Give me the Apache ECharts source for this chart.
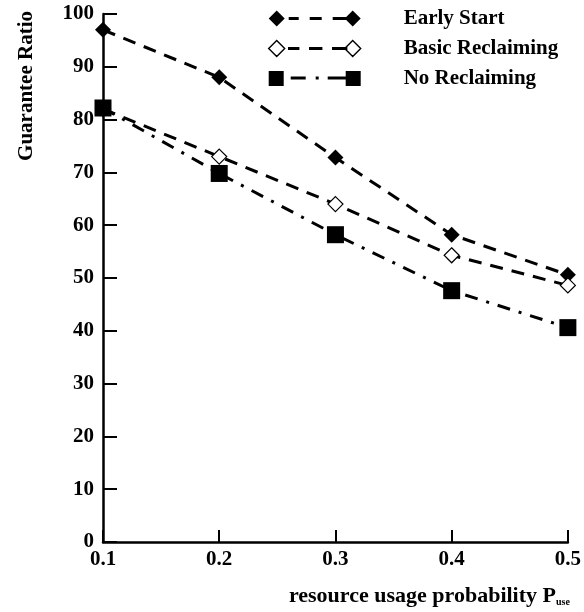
<!DOCTYPE html>
<html>
<head>
<meta charset="utf-8">
<script src="https://cdn.jsdelivr.net/npm/echarts@6/dist/echarts.min.js"></script>
<style>
  html, body { margin: 0; padding: 0; background: #fff; }
  #chart { width: 584px; height: 612px; }
</style>
</head>
<body>
<div id="chart"></div>
<script>
// 数据
const probs = ['0.1', '0.2', '0.3', '0.4', '0.5'];
const earlyStart = [97, 88, 72.8, 58.2, 50.6];
const basicReclaiming = [82, 73, 64, 54.3, 48.6];
const noReclaiming = [82.2, 69.8, 58.2, 47.6, 40.6];

const serif = '"Liberation Serif", "DejaVu Serif", serif';

// 图例图标: 两端符号 + 中间虚线 (92 x 16)
const iconDiamond = 'path://M0 8L8 0L16 8L8 16Z M20 6.5H30V9.5H20Z M41 6.5H53V9.5H41Z M64 6.5H79V9.5H64Z M76 8L84 0L92 8L84 16Z';
// 空心版本: 虚线做细, 靠描边变黑
const iconDiamondHollow = 'path://M0 8L8 0L16 8L8 16Z M20 7.3H30V8.7H20Z M41 7.3H53V8.7H41Z M64 7.3H78V8.7H64Z M76 8L84 0L92 8L84 16Z';
const iconSquare = 'path://M0 1H15V16H0Z M22 6.5H37V9.5H22Z M47 6.5H50V9.5H47Z M59 6.5H77V9.5H59Z M77 1H92V16H77Z';

const chart = echarts.init(document.querySelector('#chart'));
chart.setOption({
    animation: false,
    grid: {
        left: 103,
        right: 16,
        top: 14,
        bottom: 70
    },
    legend: {
        orient: 'vertical',
        left: 263,
        top: 3,
        itemWidth: 92,
        itemHeight: 16,
        itemGap: 9,
        textStyle: {
            fontFamily: serif,
            fontSize: 21,
            fontWeight: 'bold',
            color: '#000',
            padding: [0, 0, 0, 38]
        },
        data: [
            { name: 'Early Start', icon: iconDiamond },
            { name: 'Basic Reclaiming', icon: iconDiamondHollow, itemStyle: { color: '#fff', borderColor: '#000', borderWidth: 1.4 } },
            { name: 'No Reclaiming', icon: iconSquare }
        ]
    },
    xAxis: {
        type: 'category',
        data: probs,
        boundaryGap: false,
        axisLine: { lineStyle: { color: '#000', width: 2.5 } },
        axisTick: { inside: true, length: 12, alignWithLabel: true, lineStyle: { color: '#000', width: 2 } },
        axisLabel: {
            fontFamily: serif,
            fontSize: 21,
            fontWeight: 'bold',
            color: '#000',
            margin: 7
        },
        name: '{a|resource usage probability P}{s|use}',
        nameLocation: 'end',
        nameGap: 0,
        nameTextStyle: {
            align: 'right',
            verticalAlign: 'top',
            padding: [43, -2, 0, 0],
            rich: {
                a: { fontFamily: serif, fontSize: 22, fontWeight: 'bold', color: '#000' },
                s: { fontFamily: serif, fontSize: 10, fontWeight: 'bold', color: '#000', padding: [12, 0, 0, 0] }
            }
        }
    },
    yAxis: {
        type: 'value',
        min: 0,
        max: 100,
        interval: 10,
        splitLine: { show: false },
        axisLine: { show: true, lineStyle: { color: '#000', width: 2.5 } },
        axisTick: { show: true, inside: true, length: 14, lineStyle: { color: '#000', width: 2 } },
        axisLabel: {
            fontFamily: serif,
            fontSize: 21,
            fontWeight: 'bold',
            color: '#000',
            margin: 9
        }
    },
    graphic: [
        {
            type: 'text',
            left: 16,
            top: 11,
            rotation: Math.PI / 2,
            style: {
                text: 'Guarantee Ratio',
                fontFamily: serif,
                fontSize: 21,
                fontWeight: 'bold',
                fill: '#000'
            }
        }
    ],
    series: [
        {
            name: 'Early Start',
            type: 'line',
            data: earlyStart,
            symbol: 'diamond',
            symbolSize: 16,
            itemStyle: { color: '#000' },
            lineStyle: { color: '#000', width: 3, type: [13, 9] }
        },
        {
            name: 'Basic Reclaiming',
            type: 'line',
            data: basicReclaiming,
            symbol: 'diamond',
            symbolSize: 15,
            showAllSymbol: true,
            itemStyle: { color: '#fff', borderColor: '#000', borderWidth: 1.2 },
            lineStyle: { color: '#000', width: 3, type: [13, 9] }
        },
        {
            name: 'No Reclaiming',
            type: 'line',
            data: noReclaiming,
            symbol: 'rect',
            symbolSize: 17,
            itemStyle: { color: '#000' },
            lineStyle: { color: '#000', width: 3, type: [13, 9, 3, 9] }
        }
    ]
});
</script>
</body>
</html>
